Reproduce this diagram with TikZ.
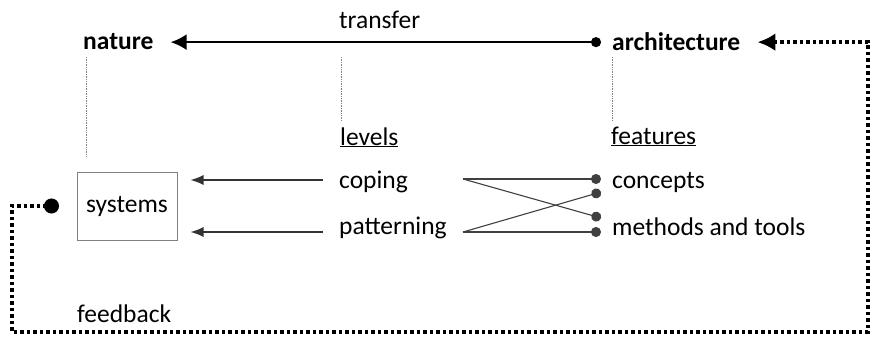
\documentclass[tikz,border=0pt]{standalone}
\usepackage{fontspec}
\setmainfont{Carlito}
\usetikzlibrary{arrows.meta}

\tikzset{
  lbl/.style={font=\fontsize{25.5pt}{30pt}\selectfont, inner sep=0pt, anchor=base west},
  guide/.style={gray, line width=0.8pt, dash pattern=on 1pt off 0.7pt},
  fbline/.style={line width=3.5pt, dash pattern=on 3.5pt off 3pt},
  thinarr/.style={line width=1.3pt, black!80, -{Latex[length=13pt,width=10pt]}},
  crossline/.style={line width=1.1pt, black!75, -{Circle[length=10pt]}},
}

\begin{document}
\begin{tikzpicture}[x=1pt,y=-1pt]
  \useasboundingbox (0,0) rectangle (870,337);
  % corners of the feedback loop
  \coordinate (fb-ne) at (868,42);
  \coordinate (fb-se) at (868,332);
  \coordinate (fb-sw) at (12,332);
  % start points of the arrows to systems
  \coordinate (cop-l) at (323,180);
  \coordinate (pat-l) at (323,232);
  % start and end points of the crossing lines
  \coordinate (cop-r) at (463,179);
  \coordinate (pat-r) at (463,232);
  \coordinate (con-b) at (601,192);
  \coordinate (met-a) at (601,218);

  % labels
  \node[lbl] (transfer) at (339,29) {transfer};
  \node[lbl,font=\fontsize{25.5pt}{30pt}\selectfont\bfseries] (nature) at (83,50) {nature};
  \node[lbl,font=\fontsize{25.5pt}{30pt}\selectfont\bfseries] (architecture) at (612,51) {architecture};
  \node[lbl] (levels) at (340,145) {\underline{levels}};
  \node[lbl] (features) at (611,144) {\underline{features}};
  \node[lbl] (coping) at (339,188) {coping};
  \node[lbl] (patterning) at (339,234) {patterning};
  \node[lbl] (concepts) at (612,188) {concepts};
  \node[lbl] (methods) at (612,235) {methods and tools};
  \node[lbl] (feedback) at (77,322) {feedback};
  \node[draw=gray,line width=1pt,minimum width=100pt,minimum height=68pt,inner sep=0pt,
        font=\fontsize{25.5pt}{30pt}\selectfont] (systems) at (127,206) {systems};

  % transfer from architecture to nature
  \draw[line width=2.5pt,{Circle[length=10pt]}-{Latex[length=16pt,width=16pt]},
        shorten <=11pt,shorten >=17pt] (architecture.west) -- (architecture.west -| nature.east);

  % thin guide lines
  \draw[guide] ([xshift=3pt,yshift=-7pt]nature.base west) -- ++(0,99);
  \draw[guide] ([xshift=2pt,yshift=-28pt]transfer.base west) -- ++(0,63);
  \draw[guide] ([xshift=0pt,yshift=-6pt]architecture.base west) -- ++(0,63);

  % levels act on systems
  \draw[thinarr,shorten >=13pt] (cop-l) -- (cop-l -| systems.east);
  \draw[thinarr,shorten >=13pt] (pat-l) -- (pat-l -| systems.east);

  % levels to features
  \draw[crossline,shorten >=11pt] (cop-r) -- (cop-r -| concepts.west);
  \draw[crossline] (cop-r) -- (met-a);
  \draw[crossline] (pat-r) -- (con-b);
  \draw[crossline,shorten >=11pt] (pat-r) -- (pat-r -| methods.west);

  % feedback loop
  \draw[fbline,{Latex[length=18pt,width=18pt]}-{Circle[length=15pt]},shorten <=17pt,shorten >=17.5pt]
    (architecture.east) -- (architecture.east -| fb-ne) -- (fb-se) -- (fb-sw)
    -- (fb-sw |- systems.west) -- (systems.west);
\end{tikzpicture}
\end{document}
